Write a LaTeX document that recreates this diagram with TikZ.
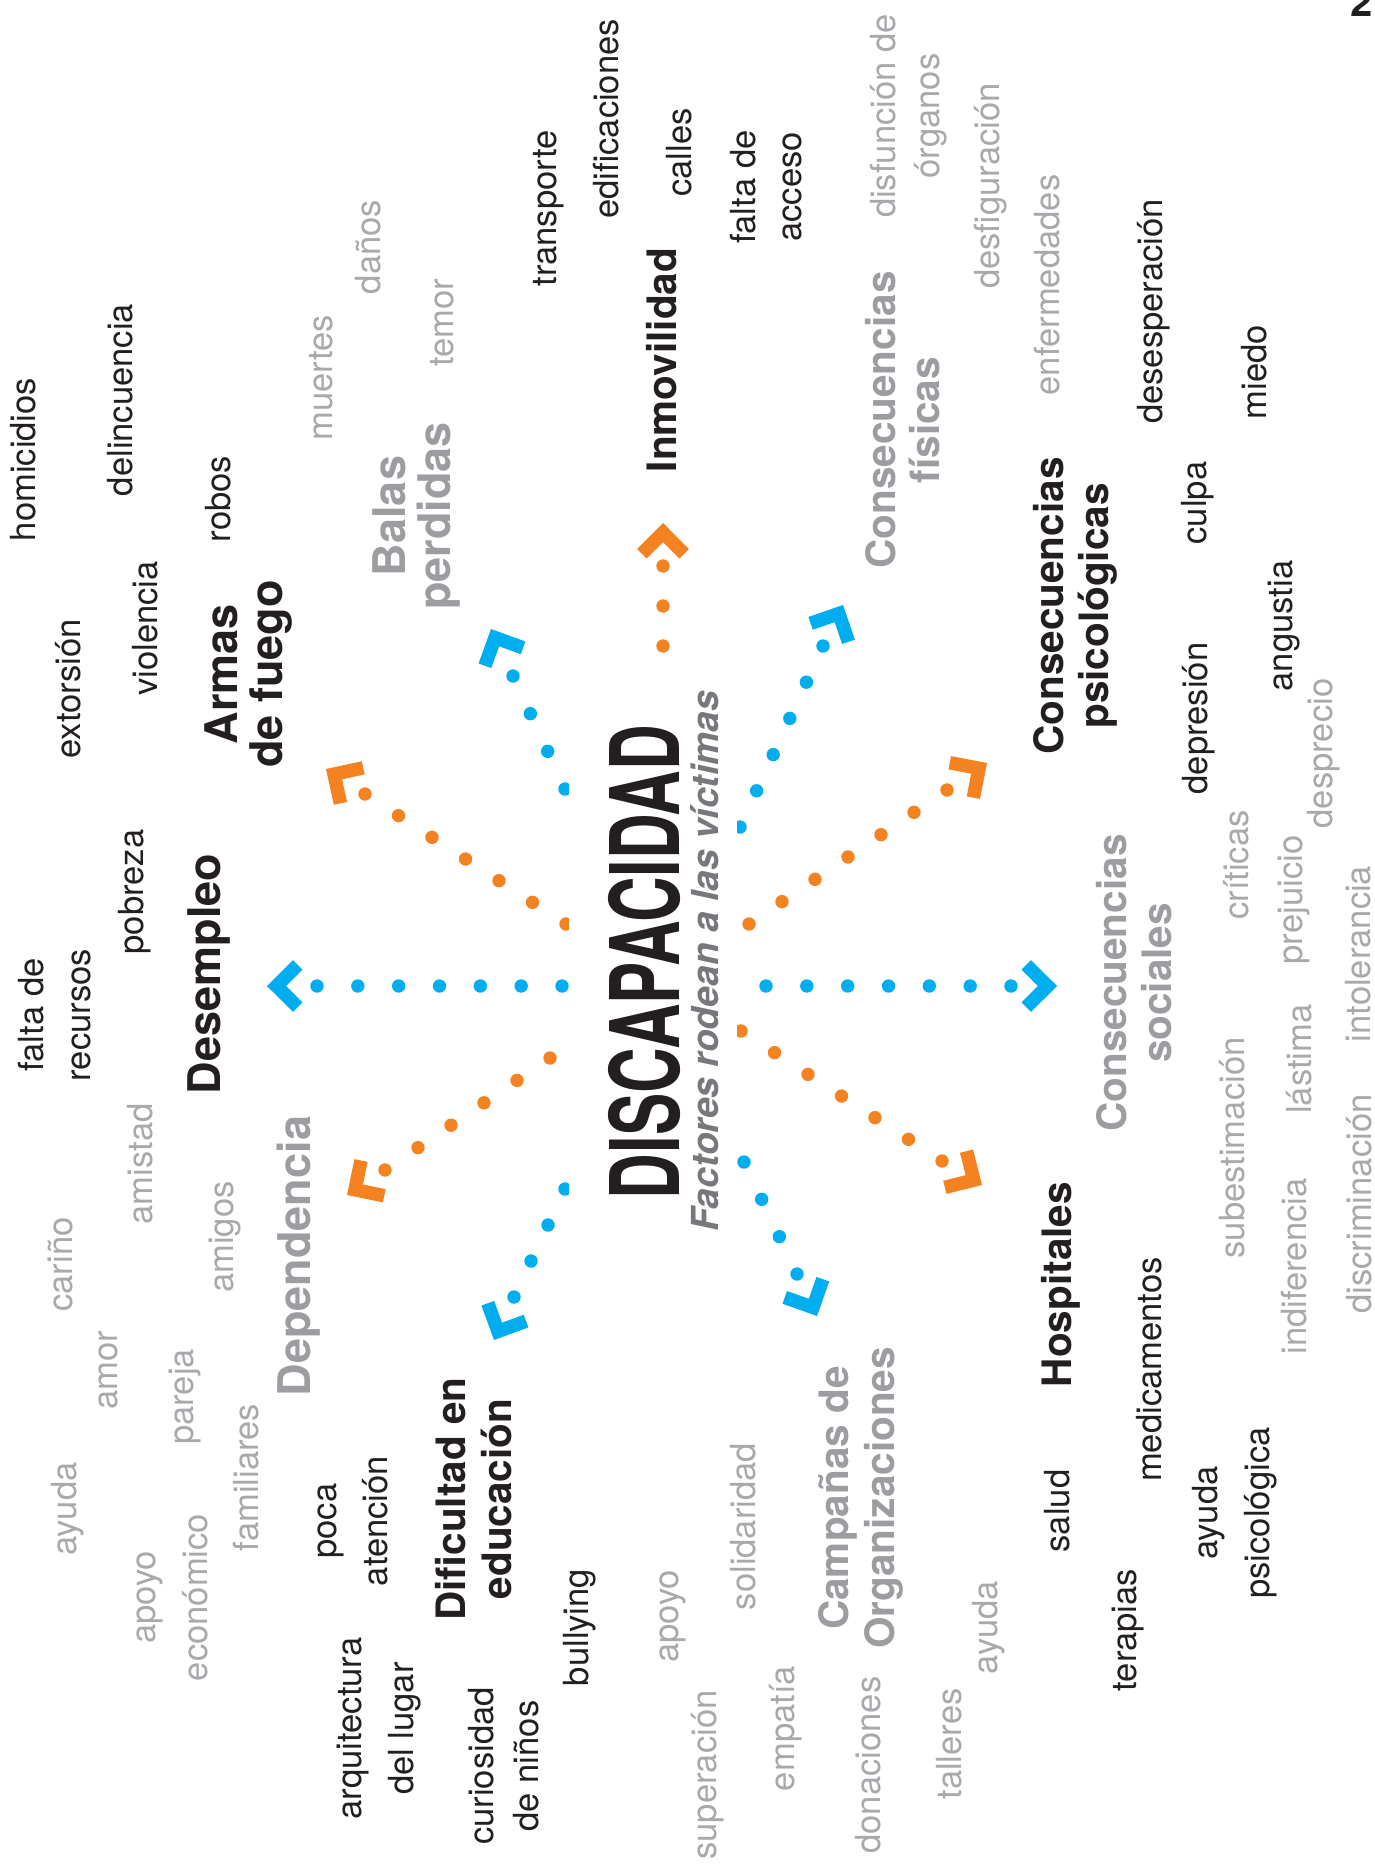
\documentclass[tikz,border=0pt]{standalone}
\usepackage{fontspec}
\setmainfont{TeX Gyre Heros}
\usetikzlibrary{calc}
\definecolor{ink}{HTML}{231F20}
\definecolor{lgray}{HTML}{A7A9AC}
\definecolor{cgray}{HTML}{9B9DA0}
\definecolor{sgray}{HTML}{77787B}
\definecolor{oran}{HTML}{F58220}
\definecolor{cyanb}{HTML}{00AEEF}
\newcommand\myray[3]{%
  \foreach \k in {0,...,#2}{\fill[#3] ($(s#1)!{\k/#2}!(e#1)$) circle (6.7pt);}
  \draw[#3, line width=13.5pt] ($(t#1)!37.25pt!34.5:(e#1)$) -- ($(t#1)!9.55pt!(e#1)$) -- ($(t#1)!37.25pt!-34.5:(e#1)$);}
\begin{document}
\begin{tikzpicture}[x=1pt,y=-1pt,
  word/.style={rotate=90, anchor=base, inner sep=0pt, align=center, text=ink, font=\fontsize{34.6}{46}\selectfont},
  gword/.style={word, text=lgray},
  cat/.style={rotate=90, anchor=base, inner sep=0pt, align=center, text=ink, font=\fontsize{40.5}{45}\selectfont\bfseries},
  catL/.style={cat, font=\fontsize{45}{45}\selectfont\bfseries},
  gcat/.style={cat, text=cgray},
  gcatL/.style={catL, text=cgray}]
\fill[white] (0,0) rectangle (1374,1867);
\useasboundingbox (0,0) rectangle (1374,1867);

% rays
\coordinate (s1) at (562,986);  \coordinate (e1) at (317,986);  \coordinate (t1) at (267,986);
\coordinate (s2) at (566,924);  \coordinate (e2) at (365,794);  \coordinate (t2) at (326,769);
\coordinate (s3) at (565,789);  \coordinate (e3) at (513,676);  \coordinate (t3) at (491,629);
\coordinate (s4) at (663,646);  \coordinate (e4) at (663,566);  \coordinate (t4) at (663,523);
\coordinate (s5) at (740,827);  \coordinate (e5) at (823,646);  \coordinate (t5) at (843,605);
\coordinate (s6) at (749,924);  \coordinate (e6) at (947,790);  \coordinate (t6) at (987,763);
\coordinate (s7) at (766,986);  \coordinate (e7) at (1011,986); \coordinate (t7) at (1057,986);
\coordinate (s8) at (741,1031); \coordinate (e8) at (942,1161); \coordinate (t8) at (982,1185);
\coordinate (s9) at (744,1162); \coordinate (e9) at (797,1274); \coordinate (t9) at (817,1316);
\coordinate (s10) at (565,1189); \coordinate (e10) at (514,1297); \coordinate (t10) at (494,1340);
\coordinate (s11) at (550,1058); \coordinate (e11) at (385,1170); \coordinate (t11) at (347,1195);
\myray{1}{6}{cyanb}
\myray{2}{6}{oran}
\myray{3}{3}{cyanb}
\myray{4}{2}{oran}
\myray{5}{5}{cyanb}
\myray{6}{6}{oran}
\myray{7}{6}{cyanb}
\myray{8}{6}{oran}
\myray{9}{3}{cyanb}
\myray{10}{3}{cyanb}
\myray{11}{5}{oran}

% mask around title
\fill[white] (569,672) rectangle (737,1245);

% title
\node[rotate=90, anchor=base, inner sep=0pt, text=ink] (title) at (679,962)
  {\resizebox{474pt}{\height}{\fontsize{96}{96}\selectfont\bfseries DISCAPACIDAD}};
\node[rotate=90, anchor=base, inner sep=0pt, text=sgray, font=\fontsize{37.2}{40}\selectfont\bfseries\itshape] (sub) at (718,961)
  {Factores rodean a las víctimas};

% categories (multi-line nodes: position = baseline of last line)
\node[catL] (armas) at (282,674) {Armas\\de fuego};
\node[gcatL] (balas) at (450,516) {Balas\\perdidas};
\node[catL] (desemp) at (220,974) {Desempleo};
\node[gcatL] (depend) at (310,1256) {Dependencia};
\node[cat] (inmov) at (676,360) {Inmovilidad};
\node[gcat, font=\fontsize{40.5}{44.5}\selectfont\bfseries] (cfis) at (939.5,420) {Consecuencias\\físicas};
\node[cat] (cpsi) at (1108,606) {Consecuencias\\psicológicas};
\node[gcat] (csoc) at (1171,983) {Consecuencias\\sociales};
\node[cat] (hosp) at (1071,1284.5) {Hospitales};
\node[gcat, font=\fontsize{40.5}{46}\selectfont\bfseries] (campa) at (894,1498) {Campañas de\\Organizaciones};
\node[cat, font=\fontsize{40.5}{46}\selectfont\bfseries] (dific) at (511,1499) {Dificultad en\\educación};

% black words
\node[word] (homi) at (35,459.5) {homicidios};
\node[word] (delin) at (132,400) {delincuencia};
\node[word] (extor) at (80,689) {extorsión};
\node[word] (viol) at (157,628.5) {violencia};
\node[word] (robos) at (230,499) {robos};
\node[word] (transp) at (556,208.5) {transporte};
\node[word] (edif) at (618,119) {edificaciones};
\node[word] (calles) at (691,152.5) {calles};
\node[word] (faltaacc) at (801,187) {falta de\\acceso};
\node[word] (desesp) at (1162,311.5) {desesperación};
\node[word] (miedo) at (1266,372) {miedo};
\node[word] (culpa) at (1206,503) {culpa};
\node[word] (depre) at (1207,718.5) {depresión};
\node[word] (angus) at (1292,626) {angustia};
\node[word] (medic) at (1161,1369.5) {medicamentos};
\node[word] (salud) at (1069,1511) {salud};
\node[word] (terap) at (1136,1630) {terapias};
\node[word, font=\fontsize{34.6}{52}\selectfont] (ayudap) at (1269,1513) {ayuda\\psicológica};
\node[word, font=\fontsize{34.6}{45}\selectfont] (curios) at (538,1766) {curiosidad\\de niños};
\node[word] (bully) at (588,1627.5) {bullying};
\node[word, font=\fontsize{34.6}{51}\selectfont] (poca) at (387,1521) {poca\\atención};
\node[word, font=\fontsize{34.6}{52}\selectfont] (arqui) at (413,1728.5) {arquitectura\\del lugar};
\node[word, font=\fontsize{34.6}{46.5}\selectfont] (faltarec) at (90,1015) {falta de\\recursos};
\node[word] (pobreza) at (143,892) {pobreza};

% gray words
\node[gword] (muertes) at (332,378) {muertes};
\node[gword] (danos) at (380,247) {daños};
\node[gword] (temor) at (453,323) {temor};
\node[gword, font=\fontsize{34.6}{44}\selectfont] (disf) at (939,116) {disfunción de\\órganos};
\node[gword] (desfig) at (999,186) {desfiguración};
\node[gword] (enferm) at (1059,285) {enfermedades};
\node[gword] (despre) at (1332,753.5) {desprecio};
\node[gword] (critic) at (1248,865) {críticas};
\node[gword] (prejui) at (1302,900) {prejuicio};
\node[gword] (intol) at (1370,954) {intolerancia};
\node[gword] (subest) at (1244,1148) {subestimación};
\node[gword] (lastima) at (1311,1059) {lástima};
\node[gword] (indif) at (1306,1266.5) {indiferencia};
\node[gword] (discrim) at (1371,1204) {discriminación};
\node[gword] (ayudaH) at (997,1627.5) {ayuda};
\node[gword] (talleres) at (961,1744) {talleres};
\node[gword] (apoyoC) at (678,1616.5) {apoyo};
\node[gword] (solid) at (755,1526.5) {solidaridad};
\node[gword] (superac) at (716,1775) {superación};
\node[gword] (empatia) at (794,1728.5) {empatía};
\node[gword] (donac) at (880,1765) {donaciones};
\node[gword] (ayudaD) at (76,1509) {ayuda};
\node[gword, font=\fontsize{34.6}{52}\selectfont] (apoyoD) at (207,1597.5) {apoyo\\económico};
\node[gword] (famil) at (258,1477.5) {familiares};
\node[gword] (amistad) at (152,1164) {amistad};
\node[gword] (carino) at (72,1264.5) {cariño};
\node[gword] (amigos) at (233,1237) {amigos};
\node[gword] (amor) at (117,1370) {amor};
\node[gword] (pareja) at (193,1397) {pareja};

% page number
\node[anchor=base, inner sep=0pt, text=ink, font=\fontsize{40}{40}\selectfont\bfseries] (pg) at (1362,17) {2};
\end{tikzpicture}
\end{document}
